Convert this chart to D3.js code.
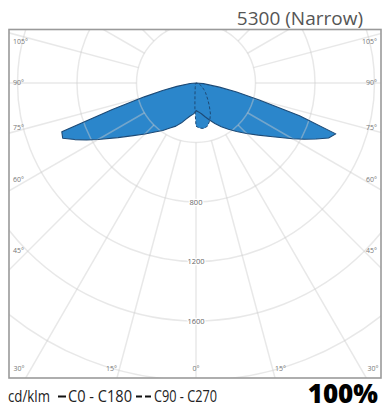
<!DOCTYPE html>
<html><head><meta charset="utf-8">
<script src="https://cdn.jsdelivr.net/npm/d3@7"></script>
<style>
html,body{margin:0;padding:0;background:#fff;}
svg{display:block;}
</style></head>
<body>
<svg id="chart" width="385" height="414"></svg>
<script>
// ---- data ----
const title = "5300 (Narrow)";
const gammaC0 = [0,5,10,15,20,25,30,35,40,45,50,55,60,62.5,65,67.5,70,72.5,75,77.5,80,85,90];
const c0Values   = [185,195,210,235,265,300,340,380,425,480,545,630,750,820,890,965,1000,730,440,280,160,50,0];
const c180Values = [190,210,225,250,285,320,350,390,430,485,550,640,760,830,900,970,960,590,360,230,130,40,0];
const gammaC90 = [0,2.5,5,10,15,20,25,30,35,40,45,50,60,70,80,90];
const c90Values  = [290,298,305,310,300,270,230,180,140,110,90,70,45,25,10,0];
const c270Values = [290,170,80,30,15,10,7,5,4,3,2,2,1,1,0,0];
const ringValues = [400,800,1200,1600,2000,2400];
const ringLabels = ["800","1200","1600"];
const spokeAngles = d3.range(0,360,15);
const sideLabels = [105,90,75,60,45];
const bottomLabels = [30,15,0];
const unitLabel = "cd/klm";
const legendSolid = "C0 - C180";
const legendDashed = "C90 - C270";
const percentLabel = "100%";

// ---- layout ----
const svg = d3.select("#chart");
const frame = {x0:9, y0:29.5, x1:381, y1:378};
const cx = 196, cy = 83;
const r = d3.scaleLinear().domain([0,1600]).range([0,238]);
const rad = d => d*Math.PI/180;

const blue = "#2b86cb", outline = "#1d4a76";

svg.append("defs").append("clipPath").attr("id","clip")
  .append("rect").attr("x",frame.x0).attr("y",frame.y0)
  .attr("width",frame.x1-frame.x0).attr("height",frame.y1-frame.y0);

const clipped = svg.append("g").attr("clip-path","url(#clip)")
  .append("g").attr("transform",`translate(${cx},${cy})`);

function polyPts(gam, right, left){
  const pts = [];
  gam.forEach((gm,i)=>pts.push([Math.PI - rad(gm), r(right[i])]));
  for(let i=gam.length-1;i>=0;i--) pts.push([Math.PI + rad(gam[i]), r(left[i])]);
  return pts;
}
const radial = d3.lineRadial().angle(d=>d[0]).radius(d=>d[1]).curve(d3.curveLinearClosed);

const c0Pts = polyPts(gammaC0, c0Values, c180Values);
const c90Pts = polyPts(gammaC90, c90Values, c270Values);

// fills
clipped.append("path").attr("d", radial(c90Pts)).attr("fill", blue);
clipped.append("path").attr("d", radial(c0Pts)).attr("fill", blue);

// grid on top (semi-transparent)
const grid = clipped.append("g").attr("stroke","rgb(205,205,205)").attr("stroke-opacity",0.45)
  .attr("stroke-width",1.5).attr("fill","none");
ringValues.forEach(v=>grid.append("circle").attr("r", r(v)));
spokeAngles.forEach(a=>{
  grid.append("line")
    .attr("x1", Math.sin(rad(a))*r(400)).attr("y1", Math.cos(rad(a))*r(400))
    .attr("x2", Math.sin(rad(a))*600).attr("y2", Math.cos(rad(a))*600);
});

// outlines
clipped.append("path").attr("d", radial(c0Pts)).attr("fill","none")
  .attr("stroke",outline).attr("stroke-width",1.1).attr("stroke-linejoin","round");
clipped.append("path").attr("d", radial(c90Pts)).attr("fill","none")
  .attr("stroke",outline).attr("stroke-width",1).attr("stroke-dasharray","3,2");

// frame
svg.append("rect").attr("x",frame.x0).attr("y",frame.y0)
  .attr("width",frame.x1-frame.x0).attr("height",frame.y1-frame.y0)
  .attr("fill","none").attr("stroke","#9a9a9a").attr("stroke-width",1.6);

// ring labels
ringLabels.forEach(t=>{
  svg.append("text").attr("x",cx).attr("y",cy + r(+t)).attr("dy","0.35em")
    .attr("text-anchor","middle").attr("font-family","Open Sans, sans-serif")
    .attr("font-size",7.5).attr("fill","#666")
    .attr("stroke","#fff").attr("stroke-width",2.5).attr("paint-order","stroke")
    .text(t);
});

// angle labels
const lab = svg.append("g").attr("font-family","Open Sans, sans-serif").attr("font-size",7).attr("fill","#777");
sideLabels.forEach(a=>{
  const y = Math.max(42, cy - 168*Math.tan(rad(a-90)));
  lab.append("text").attr("x",13).attr("y",y).attr("dy","0.35em").text(a+"°");
  lab.append("text").attr("x",377).attr("y",y).attr("dy","0.35em").attr("text-anchor","end").text(a+"°");
});
bottomLabels.forEach(a=>{
  const dx = Math.min(177, 315*Math.tan(rad(a)));
  const sides = a===0 ? [1] : [-1,1];
  sides.forEach(s=>{
    lab.append("text").attr("x",cx + s*dx).attr("y",369).attr("dy","0.35em")
      .attr("text-anchor","middle").text(a+"°");
  });
});

// title
svg.append("text").attr("x",363).attr("y",25).attr("text-anchor","end")
  .attr("font-family","Open Sans, sans-serif").attr("font-size",19).attr("fill","#555").text(title);

// legend (condensed look via textLength)
const leg = svg.append("g").attr("font-family","'Open Sans',sans-serif").attr("font-size",17).attr("fill","#222");
leg.append("text").attr("x",8).attr("y",402).attr("textLength",42).attr("lengthAdjust","spacingAndGlyphs").text(unitLabel);
leg.append("line").attr("x1",58).attr("x2",66).attr("y1",396.5).attr("y2",396.5).attr("stroke","#111").attr("stroke-width",2);
leg.append("text").attr("x",68).attr("y",402).attr("textLength",64).attr("lengthAdjust","spacingAndGlyphs").text(legendSolid);
leg.append("line").attr("x1",136).attr("x2",152).attr("y1",396.5).attr("y2",396.5).attr("stroke","#111")
  .attr("stroke-width",2).attr("stroke-dasharray","6,3");
leg.append("text").attr("x",154).attr("y",402).attr("textLength",63).attr("lengthAdjust","spacingAndGlyphs").text(legendDashed);

svg.append("text").attr("x",378).attr("y",403).attr("text-anchor","end")
  .attr("font-family","'Open Sans',sans-serif").attr("font-weight",800).attr("font-size",26)
  .attr("fill","#000").text(percentLabel);
</script>
</body></html>
